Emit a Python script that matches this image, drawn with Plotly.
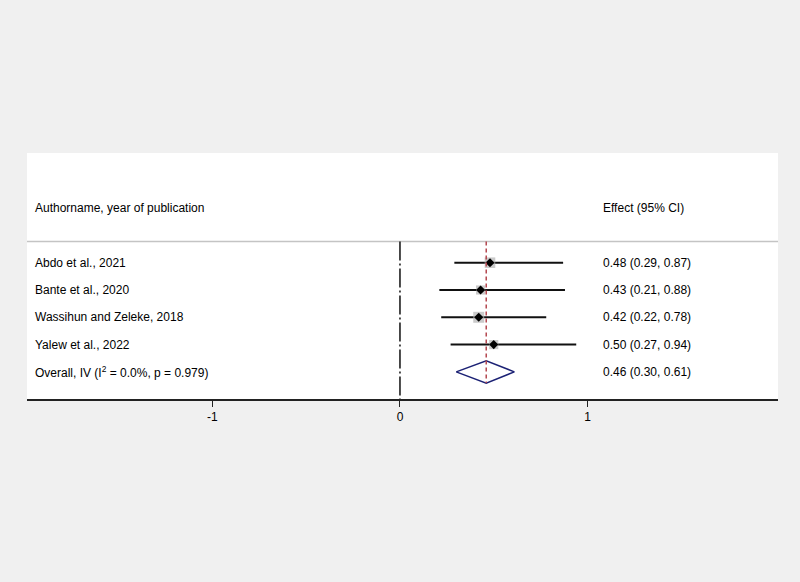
import plotly.graph_objects as go

# ---- data ----
studies = ["Abdo et al., 2021", "Bante et al., 2020",
           "Wassihun and Zeleke, 2018", "Yalew et al., 2022"]
effect = [0.48, 0.43, 0.42, 0.50]
lower = [0.29, 0.21, 0.22, 0.27]
upper = [0.87, 0.88, 0.78, 0.94]
weights = [28, 21, 30, 21]
overall_label = "Overall, IV (I<sup>2</sup> = 0.0%, p = 0.979)"
overall_effect = 0.46
overall_lower = 0.30
overall_upper = 0.61
header_left = "Authorname, year of publication"
header_right = "Effect (95% CI)"
tick_vals = [-1, 0, 1]
tick_text = ["-1", "0", "1"]

FONT = "Liberation Sans, Arial, sans-serif"
rows = list(range(1, len(studies) + 1))
overall_row = len(studies) + 1
header_row = -1.0
sep_row = 0.223
y_top, y_bottom = -3.018, 5.993

fig = go.Figure()

# CI lines
for r, lo, hi in zip(rows, lower, upper):
    fig.add_trace(go.Scatter(x=[lo, hi], y=[r, r], mode="lines",
                             line=dict(color="#111111", width=2),
                             hoverinfo="skip", showlegend=False))

# weight boxes
fig.add_trace(go.Scatter(
    x=effect, y=rows, mode="markers",
    marker=dict(symbol="square", color="#b3b3b3",
                size=[10 * (w / 25) ** 0.5 for w in weights], line=dict(width=0)),
    hoverinfo="skip", showlegend=False))

# point estimates
fig.add_trace(go.Scatter(
    x=effect, y=rows, mode="markers",
    marker=dict(symbol="diamond", color="black", size=7, line=dict(width=0)),
    hoverinfo="skip", showlegend=False))

# overall diamond
h = 0.41
fig.add_trace(go.Scatter(
    x=[overall_lower, overall_effect, overall_upper, overall_effect, overall_lower],
    y=[overall_row, overall_row - h, overall_row, overall_row + h, overall_row],
    mode="lines", line=dict(color="#1c2275", width=1.5),
    hoverinfo="skip", showlegend=False))

shapes = [
    # separator under header
    dict(type="line", xref="paper", yref="y", x0=0, x1=1, y0=sep_row, y1=sep_row,
         line=dict(color="#c4c4c4", width=1.5)),
    # null line
    dict(type="line", xref="x", yref="y", x0=0, x1=0, y0=sep_row, y1=y_bottom,
         line=dict(color="#111111", width=1.5, dash="19px,3px,2px,3px")),
    # overall effect line
    dict(type="line", xref="x", yref="y", x0=overall_effect, x1=overall_effect,
         y0=sep_row, y1=overall_row + h,
         line=dict(color="#b4474f", width=1.5, dash="4px,3px")),
]

annotations = []
annotations.append(dict(x=0.008, xref="paper", y=header_row, yref="y",
                        text=header_left, showarrow=False, xanchor="left",
                        font=dict(family=FONT, size=12, color="black")))
annotations.append(dict(x=1.072, xref="x", y=header_row, yref="y",
                        text=header_right, showarrow=False, xanchor="left",
                        font=dict(family=FONT, size=12, color="black")))
labels = studies + [overall_label]
effs = effect + [overall_effect]
los = lower + [overall_lower]
his = upper + [overall_upper]
for r, lab, e, lo, hi in zip(rows + [overall_row], labels, effs, los, his):
    annotations.append(dict(x=0.008, xref="paper", y=r, yref="y", text=lab,
                            showarrow=False, xanchor="left",
                            font=dict(family=FONT, size=12, color="black")))
    annotations.append(dict(x=1.072, xref="x", y=r, yref="y",
                            text=f"{e:.2f} ({lo:.2f}, {hi:.2f})",
                            showarrow=False, xanchor="left",
                            font=dict(family=FONT, size=12, color="black")))

fig.update_layout(
    width=800, height=582,
    margin=dict(l=27, r=22, t=153, b=183),
    paper_bgcolor="#f0f0f0", plot_bgcolor="white",
    shapes=shapes, annotations=annotations,
    xaxis=dict(range=[-1.989, 2.016], showgrid=False, zeroline=False,
               showline=True, linecolor="#222222", linewidth=2,
               ticks="outside", ticklen=6, tickwidth=1, tickcolor="#222222",
               tickvals=tick_vals, ticktext=tick_text,
               tickfont=dict(family=FONT, size=12, color="black"),
               fixedrange=True),
    yaxis=dict(range=[y_bottom, y_top], showgrid=False, zeroline=False,
               showline=False, showticklabels=False, ticks="",
               fixedrange=True),
    showlegend=False,
)

fig.write_html(
    "out.html",
    config={"displayModeBar": False},
    post_script="document.body.style.margin='0';document.body.style.overflow='hidden';",
)
